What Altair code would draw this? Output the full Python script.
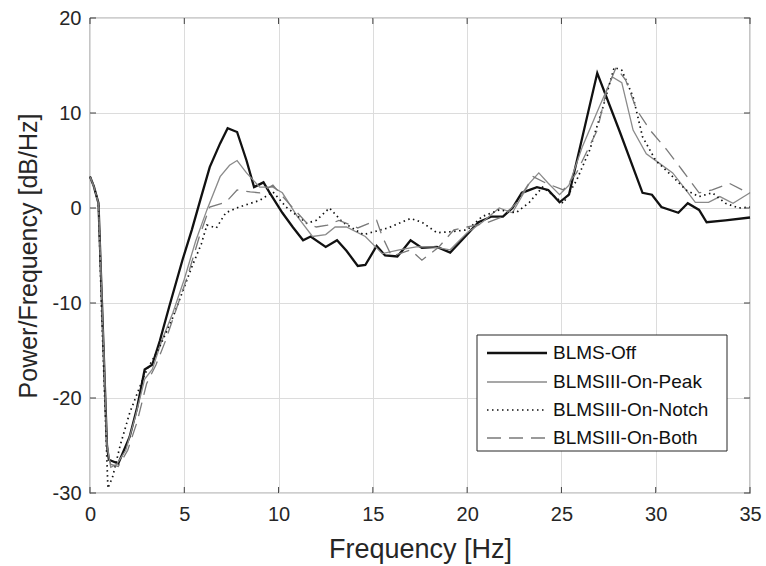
import altair as alt
import pandas as pd

# ---------------- data ----------------
series_names = ["BLMS-Off", "BLMSIII-On-Peak", "BLMSIII-On-Notch", "BLMSIII-On-Both"]

freq_off = [0, 0.2, 0.45, 0.6, 0.9, 1.0, 1.5, 2.1, 2.5, 2.9, 3.3, 3.7, 4.2, 4.9, 5.4, 5.9,
            6.35, 6.9, 7.3, 7.8, 8.3, 8.7, 9.2, 9.5, 10.2, 10.75, 11.3, 11.7, 12.5, 13.1,
            13.6, 14.2, 14.6, 15.2, 15.65, 16.3, 16.6, 17.0, 17.6, 18.4, 19.1, 19.8, 20.6,
            21.3, 21.9, 22.4, 22.9, 23.7, 24.3, 24.9, 25.4, 26.9, 28.1, 29.3, 29.8, 30.3,
            31.2, 31.7, 32.3, 32.7, 33.7, 35.0]
db_off = [3.3, 2.3, 0.5, -8, -25, -26.5, -26.9, -24.1, -21, -17, -16.5, -14, -10.4, -5.5,
          -2.3, 1.2, 4.3, 6.8, 8.4, 8.0, 5.0, 2.2, 2.7, 1.7, -0.5, -2.0, -3.4, -3.0, -4.1,
          -3.4, -4.5, -6.1, -6.0, -4.0, -5.0, -5.1, -4.4, -3.4, -4.2, -4.1, -4.7, -3.2, -1.5,
          -0.9, -0.9, 0.0, 1.6, 2.2, 1.9, 0.6, 1.4, 14.2, 8.0, 1.6, 1.4, 0.1, -0.5, 0.5,
          -0.2, -1.5, -1.3, -1.0]

freq_peak = [0, 0.2, 0.45, 0.6, 0.9, 1.1, 1.4, 1.9, 2.4, 2.9, 3.3, 3.8, 4.4, 5.0, 5.6, 6.2,
             6.9, 7.4, 7.8, 8.3, 9.0, 9.7, 10.2, 11.0, 11.8, 12.5, 13.0, 13.6, 14.6, 15.5,
             16.4, 17.3, 18.2, 19.1, 20.0, 20.8, 21.7, 22.4, 23.3, 23.8, 24.3, 24.9, 25.4,
             26.1, 27.0, 27.7, 28.2, 28.8, 29.5, 30.2, 30.9, 31.6, 32.1, 32.8, 33.4, 34.1, 35.0]
db_peak = [3.3, 2.3, 0.5, -8, -25, -27.3, -27.0, -25.5, -22, -18, -17, -14, -11, -7.5, -3.5,
           -0.2, 3.3, 4.5, 5.0, 3.7, 2.2, 2.2, 1.6, -0.9, -3.0, -2.8, -2.0, -2.0, -3.0, -4.8,
           -4.4, -4.1, -4.1, -4.4, -2.6, -1.5, 0.0, -0.5, 2.6, 3.7, 2.6, 1.4, 2.4, 6.4, 10.6,
           13.8, 13.2, 8.2, 5.7, 4.7, 3.7, 1.9, 0.6, 0.6, 1.2, 0.5, 1.6]

freq_notch = [0, 0.2, 0.45, 0.6, 0.95, 1.2, 1.6, 2.1, 2.9, 3.7, 4.4, 5.4, 5.9, 6.2, 6.7, 7.2,
              7.9, 9.0, 9.7, 10.4, 11.5, 12.0, 12.7, 13.4, 14.5, 15.8, 17.0, 17.6, 18.4, 19.1,
              20.0, 20.8, 21.7, 22.6, 23.3, 24.0, 25.1, 25.8, 26.5, 27.2, 27.8, 28.2, 28.8,
              29.3, 30.0, 30.9, 31.6, 32.3, 33.0, 33.7, 34.4, 35.0]
db_notch = [3.3, 2.3, 0.5, -10, -29.5, -28.3, -25, -21.6, -17.5, -14.6, -11.5, -6.2, -3.8,
            -1.8, -2.1, -0.5, 0.1, 0.8, 1.7, 0.1, -1.6, -1.3, 0.0, -1.5, -2.8, -2.1, -1.1,
            -1.5, -2.6, -2.5, -2.3, -0.9, -0.2, -0.5, 0.6, 2.2, 0.5, 2.9, 6.1, 10.6, 14.8,
            14.5, 11.7, 7.5, 5.0, 3.3, 1.9, 1.2, 1.6, 0.5, 0.0, 0.1]

freq_both = [0, 0.2, 0.45, 0.6, 0.9, 1.1, 1.5, 2.0, 2.5, 3.0, 3.5, 4.0, 4.6, 5.2, 5.8, 6.35,
             7.2, 7.8, 8.5, 9.0, 9.7, 10.4, 11.5, 12.0, 12.6, 13.2, 14.2, 15.2, 15.5, 16.0,
             17.0, 17.6, 18.5, 19.3, 20.0, 21.0, 21.9, 22.6, 23.5, 24.2, 25.1, 25.8, 26.9,
             27.4, 27.9, 28.4, 29.0, 29.7, 30.6, 31.4, 32.3, 33.0, 33.9, 34.6, 35.0]
db_both = [3.3, 2.3, 0.5, -8, -25, -27, -27.2, -25.5, -22.5, -18.5, -16.5, -14, -10.5, -7,
           -3, 0.1, 0.6, 1.9, 1.7, 1.6, 2.4, 0.8, -1.6, -2.0, -1.8, -1.3, -2.1, -1.3, -3.0,
           -5.1, -4.4, -5.5, -4.1, -2.3, -2.0, -1.6, -0.9, 0.5, 3.3, 2.6, 1.9, 3.7, 8.2,
           12.4, 14.8, 13.5, 10.3, 8.2, 6.1, 4.0, 1.6, 1.9, 2.6, 1.9, 1.6]

x_ticks = [0, 5, 10, 15, 20, 25, 30, 35]
y_ticks = [-30, -20, -10, 0, 10, 20]

# ---------------- styling ----------------
W, H = 660, 475
FONT = "Liberation Sans"
TXT = "#262626"

styles = {
    "BLMS-Off": dict(color="#111111", strokeWidth=2.3),
    "BLMSIII-On-Peak": dict(color="#8a8a8a", strokeWidth=1.3),
    "BLMSIII-On-Notch": dict(color="#111111", strokeWidth=1.7, strokeDash=[1.5, 3.5]),
    "BLMSIII-On-Both": dict(color="#7a7a7a", strokeWidth=1.3, strokeDash=[14, 8]),
}

raw = {
    "BLMS-Off": (freq_off, db_off),
    "BLMSIII-On-Peak": (freq_peak, db_peak),
    "BLMSIII-On-Notch": (freq_notch, db_notch),
    "BLMSIII-On-Both": (freq_both, db_both),
}

df = pd.concat(
    [pd.DataFrame({"f": raw[n][0], "v": raw[n][1], "series": n}) for n in series_names],
    ignore_index=True,
)
df["order"] = df.groupby("series").cumcount()

xs = alt.Scale(domain=[0, 35], nice=False, zero=False)
ys = alt.Scale(domain=[-30, 20], nice=False, zero=False)

x_axis = alt.Axis(values=x_ticks, title="Frequency [Hz]", ticks=False, domain=False,
                  grid=True, gridColor="#dcdcdc", gridWidth=1,
                  labelFont=FONT, labelFontSize=20, labelColor=TXT, labelPadding=11,
                  labelFlush=False, labelOverlap=False,
                  titleFont=FONT, titleFontSize=27, titleColor=TXT, titleFontWeight="normal",
                  titlePadding=12)
y_axis = alt.Axis(values=y_ticks, title="Power/Frequency [dB/Hz]", ticks=False, domain=False,
                  grid=True, gridColor="#dcdcdc", gridWidth=1,
                  labelFont=FONT, labelFontSize=20, labelColor=TXT, labelPadding=9,
                  labelFlush=False, labelOverlap=False,
                  labelExpr="toString(datum.value)",
                  titleFont=FONT, titleFontSize=25, titleColor=TXT, titleFontWeight="normal",
                  titlePadding=11)

x_enc = alt.X("f:Q", scale=xs, axis=x_axis)
y_enc = alt.Y("v:Q", scale=ys, axis=y_axis)

layers = []
for n in series_names:
    layers.append(
        alt.Chart(df).transform_filter(alt.datum.series == n)
        .mark_line(**styles[n])
        .encode(x=x_enc, y=y_enc, order="order:Q")
    )

# inward tick marks on all four sides (MATLAB box style)
xt = pd.DataFrame({"f": x_ticks})
yt = pd.DataFrame({"v": y_ticks})
TL = 6
tick_style = dict(color="#404040", strokeWidth=1)
layers.append(alt.Chart(xt).mark_rule(**tick_style).encode(x=x_enc, y=alt.value(H - TL), y2=alt.value(H)))
layers.append(alt.Chart(xt).mark_rule(**tick_style).encode(x=x_enc, y=alt.value(0), y2=alt.value(TL)))
layers.append(alt.Chart(yt).mark_rule(**tick_style).encode(y=y_enc, x=alt.value(0), x2=alt.value(TL)))
layers.append(alt.Chart(yt).mark_rule(**tick_style).encode(y=y_enc, x=alt.value(W - TL), x2=alt.value(W)))

# legend (drawn manually to get MATLAB-like long line samples)
leg_df = pd.DataFrame({"series": series_names})
LX0, LX1, LY0, LY1 = 387, 637, 317, 433
layers.append(
    alt.Chart(pd.DataFrame({"k": [0]})).mark_rect(fill="white", stroke="#262626", strokeWidth=1)
    .encode(x=alt.value(LX0), x2=alt.value(LX1), y=alt.value(LY0), y2=alt.value(LY1))
)
row_y = [335, 364, 392, 420]
for n, ry in zip(series_names, row_y):
    base = alt.Chart(leg_df).transform_filter(alt.datum.series == n)
    layers.append(
        base.mark_rule(**styles[n]).encode(x=alt.value(397), x2=alt.value(457), y=alt.value(ry))
    )
    layers.append(
        base.mark_text(align="left", baseline="middle", font=FONT, fontSize=19, color="#111111")
        .encode(x=alt.value(463), y=alt.value(ry), text="series:N")
    )

chart = (
    alt.layer(*layers)
    .properties(width=W, height=H,
                autosize=alt.AutoSizeParams(type="none"),
                padding={"left": 90, "top": 18, "right": 16, "bottom": 73},
                background="white")
    .configure_view(stroke="#404040", strokeWidth=1.2)
)

chart.save("out.html", embed_options={"renderer": "svg", "actions": False})
